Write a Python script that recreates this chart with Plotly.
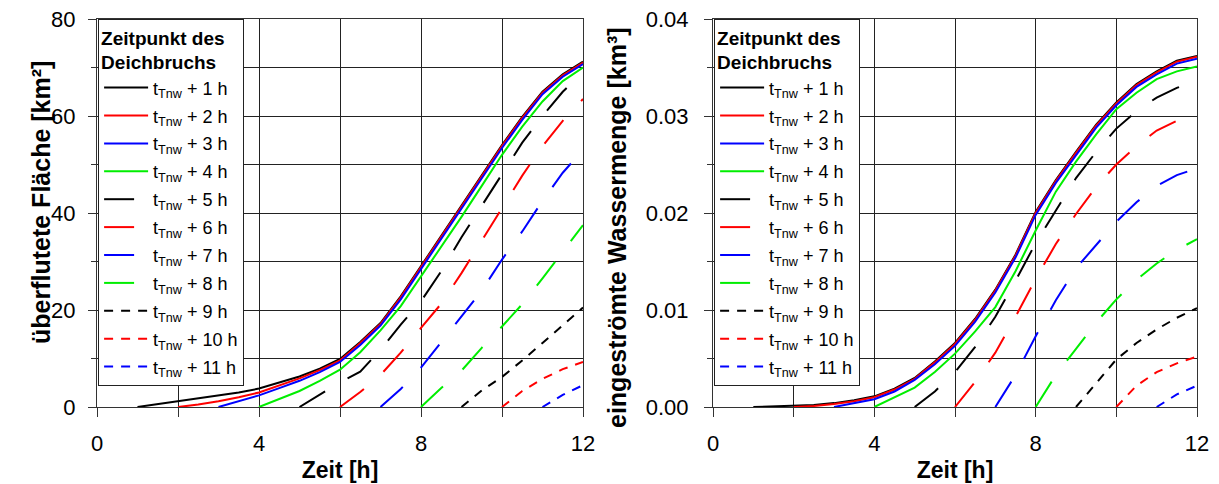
import plotly.graph_objects as go

# ---------------- data ----------------
labels = ["t<sub>Tnw</sub> + %d h" % i for i in range(1, 12)]
colors = ["#000000", "#ff0000", "#0000ff", "#00ee00"] * 3
dashes = ["solid"] * 4 + ["30px,26px"] * 4 + ["9px,8px"] * 3

# left panel: flooded area [km²]
area_x = [
    [1, 1.5, 2, 2.5, 3, 3.5, 4, 4.5, 5, 5.5, 6, 6.5, 7, 7.5, 8, 8.5, 9, 9.5, 10, 10.5, 11, 11.5, 12],
    [2, 2.5, 3, 3.5, 4, 4.5, 5, 5.5, 6, 6.5, 7, 7.5, 8, 8.5, 9, 9.5, 10, 10.5, 11, 11.5, 12],
    [3, 3.5, 4, 4.5, 5, 5.5, 6, 6.5, 7, 7.5, 8, 8.5, 9, 9.5, 10, 10.5, 11, 11.5, 12],
    [4, 4.5, 5, 5.5, 6, 6.5, 7, 7.5, 8, 8.5, 9, 9.5, 10, 10.5, 11, 11.5, 12],
    [5, 5.5, 6, 6.5, 7, 7.5, 8, 8.5, 9, 9.5, 10, 10.5, 11, 11.5, 12],
    [6, 6.5, 7, 7.5, 8, 8.5, 9, 9.5, 10, 10.5, 11, 11.5, 12],
    [7, 7.5, 8, 8.5, 9, 9.5, 10, 10.5, 11, 11.5, 12],
    [8, 8.5, 9, 9.5, 10, 10.5, 11, 11.5, 12],
    [9, 9.5, 10, 10.5, 11, 11.5, 12],
    [10, 10.5, 11, 11.5, 12],
    [11, 11.5, 12],
]
area_y = [
    [0, 0.6, 1.2, 1.7, 2.3, 3.0, 3.8, 5.0, 6.3, 7.9, 9.9, 13.4, 17.3, 22.8, 29.0, 35.2, 41.4, 47.7, 54.0, 59.8, 65.0, 68.6, 71.2],
    [0, 0.5, 1.2, 2.0, 3.0, 4.4, 5.9, 7.6, 9.6, 13.2, 17.1, 22.6, 28.8, 35.0, 41.2, 47.5, 53.8, 59.6, 64.8, 68.4, 71.0],
    [0, 1.2, 2.4, 3.9, 5.4, 7.2, 9.3, 12.8, 16.8, 22.2, 28.4, 34.6, 40.8, 47.1, 53.4, 59.2, 64.5, 68.1, 70.7],
    [0, 1.7, 3.3, 5.4, 7.7, 11.3, 15.8, 20.8, 26.9, 32.9, 39.2, 45.6, 52.0, 57.8, 63.0, 67.2, 70.0],
    [0, 2.6, 5.1, 7.3, 11.8, 17.0, 21.8, 28.0, 35.0, 41.5, 48.0, 54.5, 60.0, 65.0, 69.0],
    [0, 3.1, 6.6, 11.2, 16.3, 21.3, 27.6, 34.3, 41.0, 47.7, 53.8, 59.0, 63.5],
    [0, 3.7, 8.1, 13.4, 18.6, 24.0, 30.4, 36.2, 42.5, 48.3, 53.0],
    [0, 3.9, 7.5, 12.2, 16.6, 21.2, 26.5, 32.0, 37.5],
    [0, 3.4, 6.2, 9.6, 13.2, 16.8, 20.5],
    [0, 3.3, 5.8, 7.8, 9.3],
    [0, 2.5, 4.5],
]

# right panel: inflowing water volume [km³]
vol_y = [
    [0, 0.00005, 0.0001, 0.0002, 0.0004, 0.0007, 0.0011, 0.0019, 0.0030, 0.0047, 0.0066, 0.0091, 0.0121, 0.0157, 0.0201, 0.0234, 0.0263, 0.0291, 0.0314, 0.0333, 0.0346, 0.0357, 0.0362],
    [0, 0.0001, 0.0003, 0.0006, 0.0010, 0.0018, 0.0029, 0.0046, 0.0065, 0.0090, 0.0120, 0.0156, 0.0200, 0.0233, 0.0262, 0.0290, 0.0313, 0.0332, 0.0345, 0.0356, 0.0361],
    [0, 0.0004, 0.0008, 0.0016, 0.0028, 0.0044, 0.0063, 0.0088, 0.0118, 0.0154, 0.0198, 0.0231, 0.0260, 0.0288, 0.0311, 0.0330, 0.0343, 0.0354, 0.0359],
    [0, 0.0010, 0.0020, 0.0036, 0.0055, 0.0078, 0.0103, 0.0140, 0.0182, 0.0222, 0.0253, 0.0281, 0.0307, 0.0324, 0.0338, 0.0346, 0.0351],
    [0, 0.0016, 0.0036, 0.0062, 0.0093, 0.0130, 0.0169, 0.0203, 0.0236, 0.0263, 0.0287, 0.0305, 0.0319, 0.0329, 0.0336],
    [0, 0.0026, 0.0056, 0.0093, 0.0132, 0.0168, 0.0199, 0.0227, 0.0250, 0.0269, 0.0285, 0.0295, 0.0301],
    [0, 0.0033, 0.0073, 0.0110, 0.0143, 0.0167, 0.0191, 0.0211, 0.0228, 0.0239, 0.0246],
    [0, 0.0033, 0.0060, 0.0087, 0.0111, 0.0131, 0.0148, 0.0162, 0.0173],
    [0, 0.0025, 0.0049, 0.0066, 0.0080, 0.0092, 0.0102],
    [0, 0.0022, 0.0036, 0.0045, 0.0052],
    [0, 0.0013, 0.0022],
]

x_tickvals = [0, 2, 4, 6, 8, 10, 12]
x_ticktext = ["0", "", "4", "", "8", "", "12"]

FONT = "Arial, Liberation Sans, sans-serif"

fig = go.Figure()
for i in range(11):
    fig.add_trace(go.Scatter(
        x=area_x[i], y=area_y[i], mode="lines", name=labels[i],
        line=dict(color=colors[i], width=2, dash=dashes[i]),
        xaxis="x", yaxis="y", legend="legend", legendgroup="a%02d" % i,
    ))
for i in range(11):
    fig.add_trace(go.Scatter(
        x=area_x[i], y=vol_y[i], mode="lines", name=labels[i],
        line=dict(color=colors[i], width=2, dash=dashes[i]),
        xaxis="x2", yaxis="y2", legend="legend2", legendgroup="b%02d" % i,
    ))

# page body has an 8px margin -> figure is drawn from (8, 8)
W, H = 1211, 476
ml, mr, mt, mb = 89, 22, 11, 77
pw = W - ml - mr
ph = H - mt - mb
d1 = [0, 486 / pw]
d2 = [616 / pw, 1]

grid = "#222222"
xax = dict(range=[0, 12], tickvals=x_tickvals, ticktext=x_ticktext, automargin=False,
           ticks="outside", ticklen=9, tickcolor="#333", tickwidth=1,
           showline=True, mirror=True, linecolor="#333", linewidth=1,
           showgrid=True, gridcolor=grid, gridwidth=1, zeroline=False,
           tickfont=dict(family=FONT, size=22, color="black"), ticklabelstandoff=8,
           ticklabeloverflow="allow",
           title=dict(text="<b>Zeit [h]</b>", font=dict(family=FONT, size=23, color="black"), standoff=6))
yax_common = dict(ticks="outside", ticklen=8, tickcolor="#333", tickwidth=1, automargin=False,
                  showline=True, mirror=True, linecolor="#333", linewidth=1,
                  showgrid=True, gridcolor=grid, gridwidth=1, zeroline=False,
                  tickfont=dict(family=FONT, size=22, color="black"),
                  ticklabeloverflow="allow")

legend_common = dict(
    bgcolor="white", bordercolor="#222", borderwidth=1,
    font=dict(family=FONT, size=18, color="black"),
    title=dict(text="<b>Zeitpunkt des<br>Deichbruchs</b>", font=dict(family=FONT, size=19, color="black")),
    yanchor="top", y=1, xanchor="left", tracegroupgap=1.5, traceorder="grouped",
    itemwidth=44,
)

fig.update_layout(
    width=W, height=H,
    margin=dict(l=ml, r=mr, t=mt, b=mb, autoexpand=False),
    paper_bgcolor="white", plot_bgcolor="white",
    font=dict(family=FONT, color="black"),
    xaxis=dict(domain=d1, anchor="y", **xax),
    xaxis2=dict(domain=d2, anchor="y2", **xax),
    yaxis=dict(domain=[0, 1], anchor="x", range=[0, 80], tickvals=[0, 20, 40, 60, 80],
               ticklabelstandoff=8,
               minor=dict(tickvals=[10, 30, 50, 70], ticklen=5, ticks="outside", tickcolor="#333",
                          showgrid=True, gridcolor=grid, gridwidth=1),
               **yax_common),
    yaxis2=dict(domain=[0, 1], anchor="x2", range=[0, 0.04], tickvals=[0, 0.01, 0.02, 0.03, 0.04],
                tickformat=".2f", ticklabelstandoff=11,
                minor=dict(tickvals=[0.005, 0.015, 0.025, 0.035], ticklen=5, ticks="outside", tickcolor="#333",
                           showgrid=True, gridcolor=grid, gridwidth=1),
                **yax_common),
    legend=dict(x=0.001, **legend_common),
    legend2=dict(x=d2[0] + 0.001, **legend_common),
    showlegend=True,
    annotations=[
        dict(text="<b>überflutete Fläche [km²]</b>", textangle=-90, xref="paper", yref="paper",
             x=(33 - ml) / pw, y=1 - (195 - mt) / ph, xanchor="center", yanchor="middle",
             showarrow=False, font=dict(family=FONT, size=25, color="black")),
        dict(text="<b>eingeströmte Wassermenge [km³]</b>", textangle=-90, xref="paper", yref="paper",
             x=(609 - ml) / pw, y=1 - (220 - mt) / ph, xanchor="center", yanchor="middle",
             showarrow=False, font=dict(family=FONT, size=25, color="black")),
    ],
)

fig.write_html("out.html")
